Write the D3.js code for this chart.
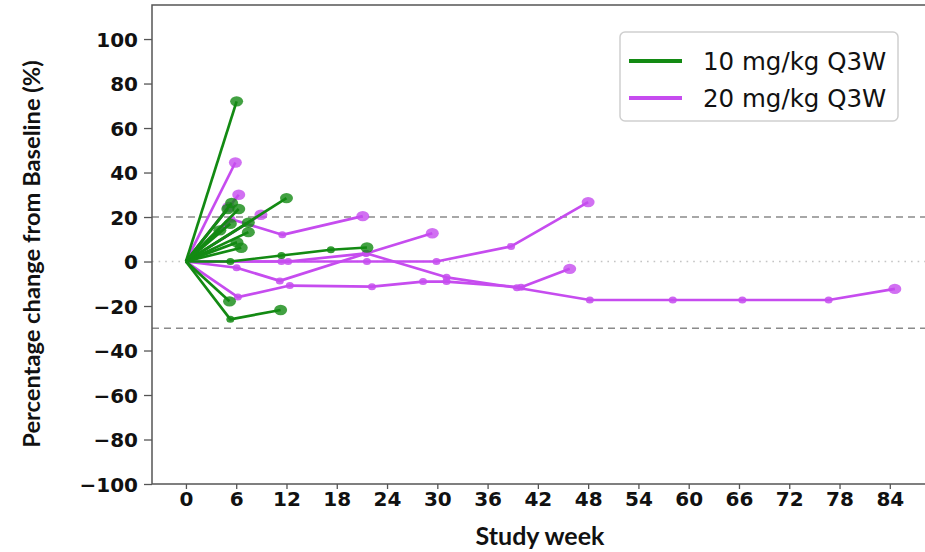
<!DOCTYPE html>
<html>
<head>
<meta charset="utf-8">
<script src="https://cdn.jsdelivr.net/npm/d3@7"></script>
<style>
  html, body { margin: 0; padding: 0; background: #fff; }
  svg { display: block; }
</style>
</head>
<body>
<svg id="chart" width="925" height="552"></svg>
<script>
// Per-subject visit weeks and percentage change from baseline, 10 mg/kg Q3W
const weeks10 = [
  [0, 6.05], [0, 12.0], [0, 5.45], [0, 6.3], [0, 5.0], [0, 5.3], [0, 7.45],
  [0, 4.05], [0, 7.45], [0, 6.1], [0, 6.6],
  [0, 5.3, 11.4, 17.3, 21.6], [0, 5.2], [0, 5.3, 11.3]
];
const change10 = [
  [0, 72], [0, 28.5], [0, 26.3], [0, 23.6], [0, 23.6], [0, 17], [0, 17.5],
  [0, 14], [0, 13.2], [0, 8.6], [0, 6.2],
  [0, 0, 2.7, 5.3, 6.3], [0, -17.9], [0, -26, -21.8]
];

// Per-subject visit weeks and percentage change from baseline, 20 mg/kg Q3W
const weeks20 = [
  [0, 5.9], [0, 6.3], [0, 8.95], [0, 5.1],
  [0, 5.45, 11.5, 21.1],
  [0, 6.05, 11.2, 21.5, 29.4],
  [0, 12.2, 21.5, 31.1, 39.5, 48.2, 58.1, 66.4, 76.7, 84.6],
  [0, 11.4, 21.6, 29.9, 38.8, 48.0],
  [0, 6.2, 12.4, 22.2, 28.3, 31.1, 40.0, 45.8]
];
const change20 = [
  [0, 44.5], [0, 30], [0, 21], [0, 24.5],
  [0, 19, 12, 20.4],
  [0, -2.8, -8.7, 3.6, 12.7],
  [0, 0, 3.7, -7.1, -11.8, -17.3, -17.3, -17.3, -17.3, -12.3],
  [0, 0, 0, 0, 6.8, 26.7],
  [0, -16, -10.8, -11.3, -9, -9, -11.6, -3.3]
];

const xTicks = [0, 6, 12, 18, 24, 30, 36, 42, 48, 54, 60, 66, 72, 78, 84];
const yTicks = [-100, -80, -60, -40, -20, 0, 20, 40, 60, 80, 100];
const thresholdLines = [20, -30];
const groupNames = ["10 mg/kg Q3W", "20 mg/kg Q3W"];
const groupColors = ["#138a13", "#c64cef"];

const svg = d3.select("#chart");
const plotLeft = 152, plotRight = 925, plotTop = 5, plotBottom = 484;

const x = d3.scaleLinear().domain([-4.05, 88.2]).range([plotLeft, plotRight]);
const y = d3.scaleLinear().domain([-100, 115.3]).range([plotBottom, plotTop]);

// Reference lines
svg.append("line")
  .attr("x1", plotLeft).attr("x2", plotRight)
  .attr("y1", y(0)).attr("y2", y(0))
  .attr("stroke", "#c4c4c4").attr("stroke-width", 1.6)
  .attr("stroke-dasharray", "1.6,5");

svg.selectAll("line.thr").data(thresholdLines).enter().append("line")
  .attr("class", "thr")
  .attr("x1", plotLeft).attr("x2", plotRight)
  .attr("y1", d => y(d)).attr("y2", d => y(d))
  .attr("stroke", "#8a8a8a").attr("stroke-width", 1.6)
  .attr("stroke-dasharray", "7,5");

// Axes
const tickFont = "'DejaVu Sans', sans-serif";
const yAxis = svg.append("g")
  .attr("transform", `translate(${plotLeft},0)`)
  .call(d3.axisLeft(y).tickValues(yTicks).tickSize(8).tickPadding(6)
    .tickFormat(d3.format("d")));
const xAxis = svg.append("g")
  .attr("transform", `translate(0,${plotBottom})`)
  .call(d3.axisBottom(x).tickValues(xTicks).tickSize(5).tickPadding(2)
    .tickFormat(d3.format("d")));

[yAxis, xAxis].forEach(g => {
  g.select(".domain").remove();
  g.selectAll(".tick line").attr("stroke", "#555").attr("stroke-width", 1.3);
  g.selectAll(".tick text")
    .attr("fill", "#111")
    .style("font-family", tickFont)
    .style("font-weight", "bold")
    .style("font-size", "20px");
});
yAxis.selectAll(".tick text").attr("dy", "0.36em");
xAxis.selectAll(".tick text").attr("dy", "0.75em");

// Spines
svg.append("path")
  .attr("d", `M${plotRight},${plotTop} H${plotLeft} V${plotBottom} H${plotRight}`)
  .attr("fill", "none").attr("stroke", "#555").attr("stroke-width", 1.5);

// Subject trajectories
const line = d3.line().x(d => x(d[0])).y(d => y(d[1]));

function drawGroup(weeks, changes, color) {
  const g = svg.append("g");
  weeks.forEach((w, i) => {
    const pts = w.map((wk, j) => [wk, changes[i][j]]);
    g.append("path")
      .attr("d", line(pts))
      .attr("fill", "none")
      .attr("stroke", color)
      .attr("stroke-width", 2.7)
      .attr("stroke-linejoin", "round");
    // intermediate visits
    g.selectAll(null).data(pts.slice(1, -1)).enter().append("ellipse")
      .attr("cx", d => x(d[0])).attr("cy", d => y(d[1]))
      .attr("rx", 4).attr("ry", 3.5)
      .attr("fill", color).attr("fill-opacity", 0.85);
    // last visit
    const last = pts[pts.length - 1];
    g.append("ellipse")
      .attr("cx", x(last[0])).attr("cy", y(last[1]))
      .attr("rx", 6.5).attr("ry", 5.2)
      .attr("fill", color).attr("fill-opacity", 0.8);
  });
}

drawGroup(weeks20, change20, groupColors[1]);
drawGroup(weeks10, change10, groupColors[0]);

// Axis titles
const titleFont = "Lato, 'Open Sans', sans-serif";
svg.append("text")
  .attr("x", 540).attr("y", 545)
  .attr("text-anchor", "middle")
  .style("font-family", titleFont).style("font-weight", "bold")
  .style("font-size", "25px").attr("fill", "#111")
  .text("Study week");
svg.append("text")
  .attr("transform", "translate(40,254) rotate(-90)")
  .attr("text-anchor", "middle")
  .style("font-family", titleFont).style("font-weight", "bold")
  .style("font-size", "23.7px").attr("fill", "#111")
  .text("Percentage change from Baseline (%)");

// Legend
const legend = svg.append("g");
legend.append("rect")
  .attr("x", 620).attr("y", 32).attr("width", 278).attr("height", 89)
  .attr("rx", 5).attr("fill", "#fff")
  .attr("stroke", "#cfcfcf").attr("stroke-width", 1.5);
groupNames.forEach((name, i) => {
  const yy = 61 + i * 37;
  legend.append("line")
    .attr("x1", 629).attr("x2", 682).attr("y1", yy).attr("y2", yy)
    .attr("stroke", groupColors[i]).attr("stroke-width", 4);
  legend.append("text")
    .attr("x", 703).attr("y", yy + 8.5)
    .style("font-family", "'DejaVu Sans', sans-serif")
    .style("font-size", "24.5px").attr("fill", "#111")
    .text(name);
});
</script>
</body>
</html>
